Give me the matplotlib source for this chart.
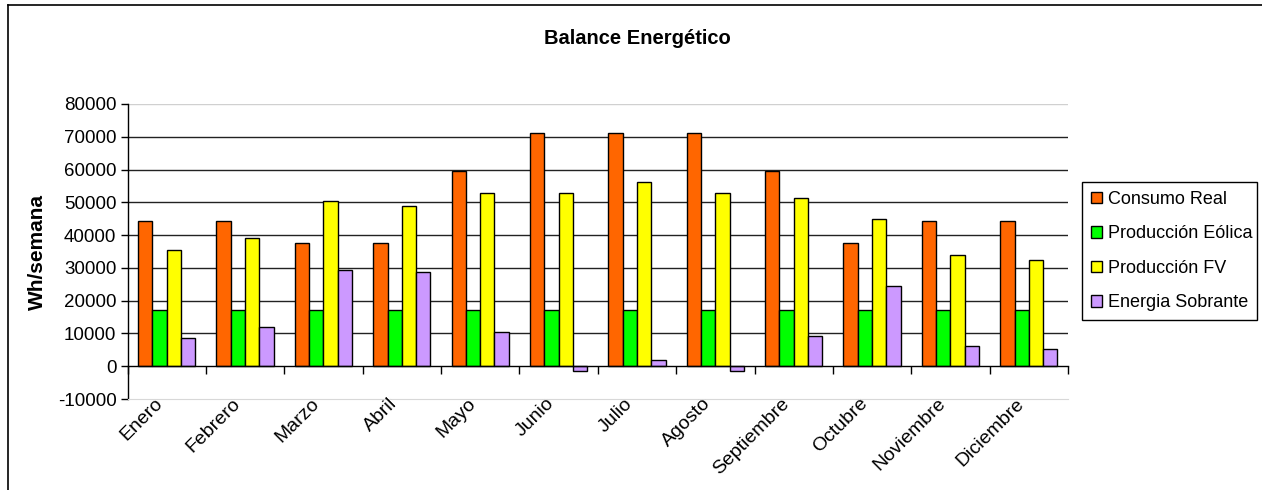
import numpy as np
import matplotlib
matplotlib.use('Agg')
import matplotlib.pyplot as plt
import matplotlib.transforms as mtransforms
from matplotlib.lines import Line2D

plt.rcParams['font.family'] = ['Liberation Sans', 'DejaVu Sans']

meses = ['Enero', 'Febrero', 'Marzo', 'Abril', 'Mayo', 'Junio', 'Julio',
         'Agosto', 'Septiembre', 'Octubre', 'Noviembre', 'Diciembre']
consumo_real = [44300, 44300, 37700, 37700, 59500, 71000, 71000, 71000, 59500, 37700, 44300, 44300]
prod_eolica = [17200, 17200, 17200, 17200, 17200, 17200, 17200, 17200, 17200, 17200, 17200, 17200]
prod_fv = [35600, 39000, 50500, 49000, 52800, 52700, 56200, 52700, 51400, 44800, 33800, 32400]
energia_sobrante = [8600, 11900, 29500, 28600, 10500, -1500, 1900, -1500, 9100, 24400, 6300, 5400]

series = [consumo_real, prod_eolica, prod_fv, energia_sobrante]
nombres = ['Consumo Real', 'Producción Eólica', 'Producción FV', 'Energia Sobrante']
colores = ['#FF6600', '#00FF00', '#FFFF00', '#CC99FF']
yticks = np.arange(-10000, 80001, 10000)

W, H = 1262, 490
fig = plt.figure(figsize=(W/100, H/100), dpi=100)
ax = fig.add_axes([127.5/W, 1-399/H, (1068-127.5)/W, (399-104)/H])

x = np.arange(len(meses))
bw = 0.1825
for k in range(4):
    ax.bar(x + (k-1.5)*bw, series[k], width=bw, color=colores[k], edgecolor='black',
           linewidth=1.0, label=nombres[k], zorder=3)

ax.set_xlim(-0.5, len(meses)-0.5)
ax.set_ylim(-10000, 80000)
ax.set_yticks(yticks)
ax.set_yticklabels([str(v) for v in yticks])
for v in yticks[1:-1]:
    if v != 0:
        ax.axhline(v, color='#222222', linewidth=1.0, zorder=1)
ax.axhline(80000, color='#d0d0d0', linewidth=1.0, zorder=1)
ax.tick_params(axis='y', direction='out', length=5, width=1, labelsize=13.5, pad=3)

for s in ['top', 'right']:
    ax.spines[s].set_visible(False)
ax.spines['bottom'].set_color('#d8d8d8')
ax.spines['left'].set_color('black')
ax.spines['left'].set_linewidth(1.0)

# month labels under the plot (rotated, end of text just left of category centre)
ax.set_xticks([])
offset = mtransforms.ScaledTranslation(-13/100, 4/100, fig.dpi_scale_trans)
trans = ax.get_xaxis_transform() + offset
for i, m in enumerate(meses):
    ax.text(x[i], 0, m, transform=trans, rotation=45, rotation_mode='anchor',
            ha='right', va='top', fontsize=14, clip_on=False)

# category axis crossing at zero
sec = ax.secondary_xaxis(10000/90000)
sec.set_xticks(np.arange(-0.5, len(meses), 1.0))
sec.set_xticklabels([])
sec.tick_params(axis='x', direction='out', length=6, width=1, color='black')
sec.spines['bottom'].set_color('black')
sec.spines['bottom'].set_linewidth(1.0)
sec.set_zorder(4)

ax.set_ylabel('Wh/semana', fontsize=15, fontweight='bold', labelpad=8)

fig.text(637/W, 1-38/H, 'Balance Energético', fontsize=14.5, fontweight='bold',
         ha='center', va='center')

leg = ax.legend(loc='center left', bbox_to_anchor=(1082/W, 1-320/H, 175/W, 138/H),
                bbox_transform=fig.transFigure, mode='expand', fontsize=13,
                frameon=True, fancybox=False, edgecolor='black', framealpha=1,
                handlelength=0.6, handleheight=0.6, handletextpad=0.35,
                borderpad=0.5, labelspacing=0.97, borderaxespad=0)
leg.get_frame().set_linewidth(1.0)

# outer chart frame
fig.add_artist(Line2D([7.5/W, 7.5/W], [0, 1-5.5/H], color='black', linewidth=1.2))
fig.add_artist(Line2D([7.5/W, 1], [1-5.5/H, 1-5.5/H], color='black', linewidth=1.2))

fig.savefig('out.png', dpi=100)
